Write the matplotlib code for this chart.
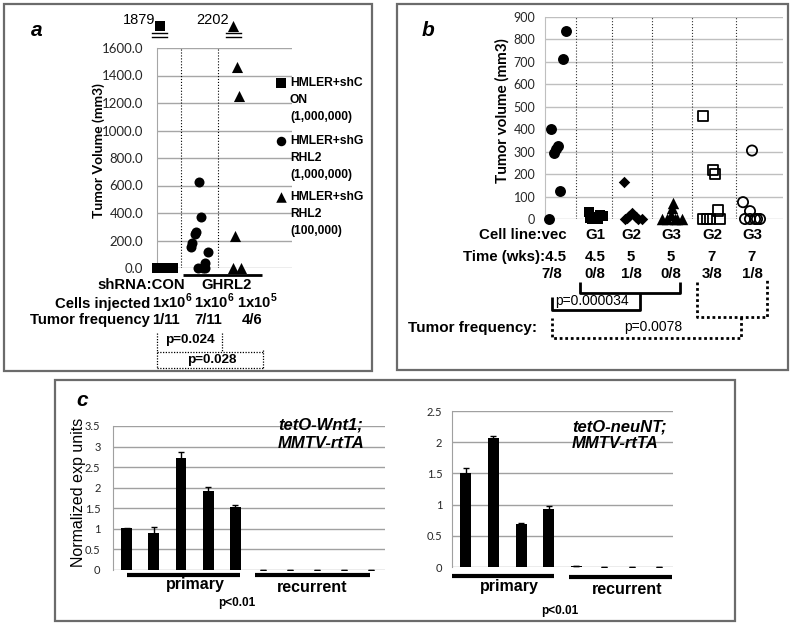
import numpy as np
import matplotlib.pyplot as plt
from matplotlib.patches import Rectangle
from matplotlib.transforms import blended_transform_factory

plt.rcParams['font.family'] = ['Liberation Sans', 'DejaVu Sans']
plt.rcParams['mathtext.fontset'] = 'custom'
plt.rcParams['mathtext.rm'] = 'Liberation Sans'
plt.rcParams['mathtext.bf'] = 'Liberation Sans:bold'
CAL = ['Lato', 'DejaVu Sans']   # stand-in for the Excel (Calibri) labels

# ---- panel a: HMLER xenografts, tumour volume (mm3)
a_con = [1879, 0, 0, 0, 0, 0, 0, 0, 0, 0, 0]
a_g_1e6 = [627, 373, 265, 250, 185, 155, 118, 35, 0, 0, 0]
a_g_1e5 = [2202, 1460, 1250, 230, 0, 0]
a_shrna = ["CON", "GHRL2"]
a_cells = [r"1x10$^{\mathbf{6}}$", r"1x10$^{\mathbf{6}}$", r"1x10$^{\mathbf{5}}$"]
a_freq = ["1/11", "7/11", "4/6"]
a_pvals = ["p=0.024", "p=0.028"]
a_legend = [["HMLER+shC", "ON", "(1,000,000)"],
            ["HMLER+shG", "RHL2", "(1,000,000)"],
            ["HMLER+shG", "RHL2", "(100,000)"]]
# sideways scatter of the points (px)
a_jit = [[-5, -8, -6, -4, -2, 0, 2, 4, 6, 8, 9],
         [-1, 1, -5, -6, -9, -10, 8, 5, -3, 5, 3],
         [-3, 1, 3, -1, -3, 5]]

# ---- panel b
b_lines = ["vec", "G1", "G2", "G3", "G2", "G3"]
b_time = ["4.5", "4.5", "5", "5", "7", "7"]
b_freq = ["7/8", "0/8", "1/8", "0/8", "3/8", "1/8"]
b_vec = [838, 711, 400, 325, 310, 295, 123, 0]
b_g1 = [30, 20, 15, 10, 5, 0, 0, 0]
b_g2 = [165, 25, 15, 10, 5, 0, 0, 0]
b_g3 = [70, 50, 20, 0, 0, 0, 0, 0]
b_g2_7wk = [460, 220, 200, 38, 0, 0, 0, 0]
b_g3_7wk = [305, 75, 35, 0, 0, 0, 0, 0]
b_jit = [[10, 7, -5, 2, 0, -2, 4, -7],
         [-6, 5, 8, -2, -5, 1, 3, -3],
         [-7, 1, -2, 5, -4, -6, 11, 7],
         [2, 1, 0, -9, -4, 6, 11, 4],
         [-9, 1, 3, 6, -9, -5, -2, 8],
         [0, -9, -2, -7, -2, 3, 8, 5]]
b_pvals = ["p=0.000034", "p=0.0078"]

# ---- panel c: normalized expression, primary vs recurrent
c_wnt = [1.01, 0.905, 2.72, 1.92, 1.535, 0.01, 0.005, 0.005, 0.005, 0.005]
c_wnt_err = [0.01, 0.13, 0.15, 0.10, 0.04, 0, 0, 0, 0, 0]
c_neu = [1.51, 2.075, 0.69, 0.935, 0.01, 0.005, 0.005, 0.005]
c_neu_err = [0.08, 0.02, 0.01, 0.04, 0, 0, 0, 0]
c_groups = ["primary", "recurrent"]

W, H = 800, 625
fig = plt.figure(figsize=(W / 100, H / 100), dpi=100)


def px_axes(l, t, r, b):
    return fig.add_axes([l / W, 1 - b / H, (r - l) / W, (b - t) / H])


def excel_axes(ax, ticks, fmt, size, pad, grid='#a6a6a6'):
    ax.set_yticks(ticks)
    ax.set_yticklabels([fmt(v) for v in ticks], family=CAL, fontsize=size)
    ax.set_xticks([])
    ax.grid(axis='y', color=grid, lw=1)
    ax.set_axisbelow(True)
    for sp in ['top', 'right', 'bottom']:
        ax.spines[sp].set_visible(False)
    ax.spines['left'].set_color(grid)
    ax.tick_params(axis='y', length=0, pad=pad, colors='#262626')
    ax.patch.set_alpha(0)


# ================= panel a =================
axa = px_axes(157, 48, 292, 268)
a_unit, a_top = 38.0, 1600
axa.set_xlim(1 - 8 / a_unit, 1 + 135 / a_unit)
axa.set_ylim(0, a_top)
excel_axes(axa, np.arange(0, a_top + 1, 200), lambda v: f"{v:.1f}", 9.5, 10)
for xd in [1.47, 2.5]:
    axa.axvline(xd, color='k', ls=':', lw=0.8)
a_marks = [('s', 58), ('o', 52), ('^', 64)]
for i, (vals, jit, (m, s)) in enumerate(zip([a_con, a_g_1e6, a_g_1e5], a_jit, a_marks)):
    x = i + 1 + np.array(jit) / a_unit
    v = np.array(vals, float)
    over = v > a_top
    y = np.where(over, a_top * 1.1, v)
    axa.scatter(x, y, marker=m, s=s, c='k', lw=0, clip_on=False, zorder=3)
    for xo, vo in zip(x[over], v[over]):
        axa.annotate(f"{vo:.0f}", (xo, a_top * 1.1), xytext=(-3, 4),
                     textcoords='offset points', ha='right', va='center',
                     fontsize=10.5, annotation_clip=False)
        for yb in (a_top * 1.052, a_top * 1.066):
            axa.plot([xo - 8 / a_unit, xo + 8 / a_unit], [yb, yb], color='k', lw=1,
                     clip_on=False)

# ================= panel b =================
axb = px_axes(545, 17, 783, 219)
b_unit = 40.0
b_pos = [1, 1.98, 2.88, 3.88, 4.9, 5.9]
axb.set_xlim(1 - 11 / b_unit, 1 + 227 / b_unit)
axb.set_ylim(0, 900)
excel_axes(axb, np.arange(0, 901, 100), lambda v: f"{v:.0f}", 9, 7, grid='#bfbfbf')
for xd in [1.5, 2.4, 3.4, 4.4, 5.5]:
    axb.axvline(xd, color='#333333', ls=':', lw=0.8)
b_marks = [('o', 'k', 62), ('s', 'k', 62), ('D', 'k', 34), ('^', 'k', 68),
           ('s', 'none', 54), ('o', 'none', 54)]
for vals, jit, pos, (m, fc, s) in zip([b_vec, b_g1, b_g2, b_g3, b_g2_7wk, b_g3_7wk],
                                      b_jit, b_pos, b_marks):
    x = pos + np.array(jit) / b_unit
    if fc == 'none':
        axb.scatter(x, vals, marker=m, s=s, facecolors='none', edgecolors='k', lw=1.3,
                    clip_on=False, zorder=3)
    else:
        axb.scatter(x, vals, marker=m, s=s, c='k', lw=0, clip_on=False, zorder=3)

# ================= panel c =================
err_kw = dict(ecolor='k', elinewidth=1, capsize=2.5, capthick=1)
axc1 = px_axes(113, 426, 385, 570)
axc1.bar(np.arange(len(c_wnt)), c_wnt, 0.4, yerr=c_wnt_err, color='k', error_kw=err_kw)
axc1.set_xlim(-0.5, len(c_wnt) - 0.5)
axc1.set_ylim(0, 3.5)
excel_axes(axc1, np.arange(0, 3.51, 0.5), lambda v: f"{v:g}", 8, 9, grid='#a0a0a0')

axc2 = px_axes(452, 411, 673, 567)
axc2.bar(np.arange(len(c_neu)), c_neu, 0.4, yerr=c_neu_err, color='k', error_kw=err_kw)
axc2.set_xlim(-0.5, len(c_neu) - 0.5)
axc2.set_ylim(0, 2.5)
excel_axes(axc2, np.arange(0, 2.51, 0.5), lambda v: f"{v:g}", 8, 7, grid='#a0a0a0')

# ================= overlay in pixel units =================
ov = fig.add_axes([0, 0, 1, 1], zorder=10)
ov.set_xlim(0, W)
ov.set_ylim(H, 0)
ov.axis('off')


def t(x, y, s, va='center', **kw):
    ov.text(x, y, s, va=va, **kw)


def seg(xs, ys, **kw):
    ov.plot(xs, ys, color='k', solid_capstyle='butt', **kw)


box_kw = dict(fill=False, ec='#6b6b6b', lw=1.6)
ov.add_patch(Rectangle((4, 4), 368, 367, **box_kw))
ov.add_patch(Rectangle((397, 4), 391, 366, **box_kw))
ov.add_patch(Rectangle((55, 380), 680, 241, **box_kw))

lab = dict(fontsize=15, weight='bold', style='italic', ha='center')
t(37, 31, 'a', **lab)
t(428, 30, 'b', **lab)
t(82, 400, 'c', **lab)

# --- panel a extras
t(99, 151, "Tumor Volume (mm3)", rotation=90, ha='center', family=CAL,
  weight='bold', fontsize=10)
for (m, s), lines, y0 in zip(a_marks, a_legend, [83, 141, 197]):
    ov.scatter([281], [y0], marker=m, s=s * 0.9, c='k', lw=0)
    for k, line in enumerate(lines):
        t(290, y0 + 17 * k, line, ha='left', weight='bold', fontsize=8.7)
seg([183, 262], [275, 275], lw=2)
big = dict(weight='bold', fontsize=10.7, va='baseline')
t(185, 289, "shRNA:" + a_shrna[0], ha='right', **big)
t(227, 289, a_shrna[1], ha='center', **big)
t(150, 308, "Cells injected", ha='right', **big)
t(150, 324, "Tumor frequency", ha='right', **big)
for xc, cell in zip([172, 214, 257], a_cells):
    t(xc, 308, cell, ha='center', **big)
for xc, fr in zip([166, 208, 252], a_freq):
    t(xc, 324, fr, ha='center', **big)
dot = dict(ls=(0, (1, 1.2)), lw=0.9)
seg([157, 157], [333, 368], **dot)
seg([222, 222], [333, 352], **dot)
seg([157, 263], [352, 352], **dot)
seg([263, 263], [350, 368], **dot)
seg([157, 263], [368, 368], **dot)
t(190, 340, a_pvals[0], ha='center', weight='bold', fontsize=9.7)
t(212, 360, a_pvals[1], ha='center', weight='bold', fontsize=9.7)

# --- panel b extras
t(502, 111, "Tumor volume (mm3)", rotation=90, ha='center', family=CAL,
  weight='bold', fontsize=11)
bx = blended_transform_factory(axb.transData, ov.transData)
mid = dict(weight='bold', fontsize=10.8, va='baseline')
t(567, 239, "Cell line:" + b_lines[0], ha='right', **mid)
t(566, 261, "Time (wks):" + b_time[0], ha='right', **mid)
ov.text(b_pos[0] - 0.1, 278, b_freq[0], transform=bx, ha='center', **mid)
for pos, cl, tm, fr in zip(b_pos[1:], b_lines[1:], b_time[1:], b_freq[1:]):
    for y, s in [(239, cl), (261, tm), (278, fr)]:
        ov.text(pos, y, s, transform=bx, ha='center', **mid)
seg([580, 580, 680, 680], [282, 293, 293, 282], lw=2)
seg([640, 640, 552, 552], [293, 310, 310, 297], lw=2)
t(555, 301, b_pvals[0], ha='left', fontsize=10)
bdot = dict(ls=(0, (1, 1)), lw=2)
seg([697, 697, 767, 767], [282, 317, 317, 280], **bdot)
seg([741, 741, 552, 552], [317, 338, 338, 318], **bdot)
t(653, 327, b_pvals[1], ha='center', fontsize=10)
t(537, 332, "Tumor frequency:", va='baseline', ha='right', weight='bold', fontsize=11)

# --- panel c extras
t(78, 492, "Normalized exp units", rotation=90, ha='center', fontsize=11.5)
t(278, 425, "tetO-Wnt1;", ha='left', weight='bold', style='italic', fontsize=12)
t(278, 443, "MMTV-rtTA", ha='left', weight='bold', style='italic', fontsize=12)
t(572, 427, "tetO-neuNT;", ha='left', weight='bold', style='italic', fontsize=12)
t(572, 444, "MMTV-rtTA", ha='left', weight='bold', style='italic', fontsize=12)
seg([127, 240], [575, 575], lw=3)
seg([255, 370], [575, 575], lw=3)
seg([452, 554], [576, 576], lw=3)
seg([569, 672], [577, 577], lw=3)
for xc, yc, g in [(195, 585, c_groups[0]), (312, 587, c_groups[1]),
                  (509, 587, c_groups[0]), (627, 589, c_groups[1])]:
    t(xc, yc, g, ha='center', weight='bold', fontsize=11.5)
t(237, 603, "p<0.01", ha='center', weight='bold', fontsize=8.5)
t(560, 611, "p<0.01", ha='center', weight='bold', fontsize=8.5)

fig.savefig("out.png", dpi=100)
